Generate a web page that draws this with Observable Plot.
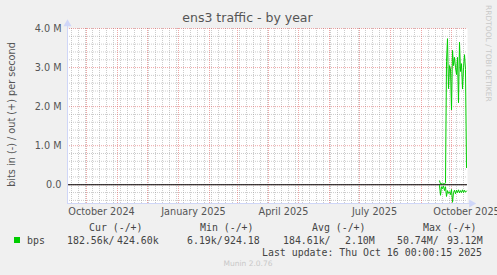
<!DOCTYPE html>
<html><head><meta charset="utf-8">
<script src="https://cdn.jsdelivr.net/npm/d3@7"></script>
<script src="https://cdn.jsdelivr.net/npm/@observablehq/plot@0.6"></script>
<style>html,body{margin:0;padding:0;background:#F0F0F0;overflow:hidden}</style>
</head><body><div id="chart"></div>
<script>
// ---- data (daily averages, bits per second) ----
const dates = ["2025-09-19","2025-09-20","2025-09-21","2025-09-22","2025-09-23","2025-09-24","2025-09-25",
  "2025-09-26","2025-09-27","2025-09-28","2025-09-29","2025-09-30","2025-10-01","2025-10-02","2025-10-03",
  "2025-10-04","2025-10-05","2025-10-06","2025-10-07","2025-10-08","2025-10-09","2025-10-10","2025-10-11",
  "2025-10-12","2025-10-13","2025-10-14","2025-10-15","2025-10-16"];
const outBps = [0.10e6,0.02e6,0.03e6,0.02e6,0.03e6,0.02e6,0.05e6,
  3.15e6,3.74e6,2.46e6,3.05e6,2.97e6,1.92e6,3.44e6,3.05e6,
  3.26e6,3.0e6,2.82e6,3.26e6,2.1e6,3.65e6,2.9e6,3.1e6,
  2.45e6,3.0e6,3.33e6,2.95e6,0.44e6];
const inBps = [0.02e6,0.27e6,0.05e6,0.10e6,0.03e6,0.15e6,0.05e6,
  0.30e6,0.15e6,0.22e6,0.18e6,0.25e6,0.12e6,0.45e6,0.20e6,
  0.14e6,0.23e6,0.14e6,0.20e6,0.13e6,0.21e6,0.15e6,0.20e6,
  0.13e6,0.20e6,0.14e6,0.19e6,0.16e6];

const xLabelDates = ["2024-10-16","2025-01-16","2025-04-16","2025-07-16","2025-10-16"];
const xLabels = ["October 2024","January 2025","April 2025","July 2025","October 2025"];
const yTicks = [0, 1e6, 2e6, 3e6, 4e6];
const yLabels = ["0.0","1.0 M","2.0 M","3.0 M","4.0 M"];

const legendHeads = ["Cur (-/+)","Min (-/+)","Avg (-/+)","Max (-/+)"];
const legendIn  = ["182.56k/","6.19k/","184.61k/","50.74M/"];
const legendOut = ["424.60k","924.18","2.10M","93.12M"];

// ---- build ----
const xStart = new Date("2024-09-12T00:00:00Z");
const xEnd = new Date("2025-10-17T00:00:00Z");
const yMin = -0.48e6, yMax = 4.0e6;
const parse = s => new Date(s + "T00:00:00Z");
const outData = dates.map((d, i) => ({date: parse(d), v: outBps[i]}));
const inData = dates.map((d, i) => ({date: parse(d), v: -inBps[i]}));
const xLabelMap = new Map(xLabelDates.map((d, i) => [+parse(d), xLabels[i]]));
const yLabelMap = new Map(yTicks.map((t, i) => [t, yLabels[i]]));

const monthLines = d3.utcMonth.range(new Date("2024-10-01T00:00:00Z"), new Date("2025-10-02T00:00:00Z"));
const weekLines = d3.utcMonday.range(xStart, xEnd).filter(d => d.getUTCDate() !== 1);
const yMinor = d3.range(-2, 20).map(k => k * 0.2e6).filter(v => Math.abs(v / 1e6 - Math.round(v / 1e6)) > 1e-6);

const gridGray = "rgba(143,143,143,0.45)";
const gridRed = "rgba(222,79,79,0.5)";
const axisBlue = "#CFD6F8";

const plot = Plot.plot({
  width: 497, height: 275,
  marginLeft: 67, marginRight: 30, marginTop: 28, marginBottom: 72,
  style: {background: "#F0F0F0", fontFamily: "DejaVu Sans", fontSize: "9.7px", color: "#555", overflow: "visible"},
  x: {type: "utc", domain: [xStart, xEnd], label: null, axis: null},
  y: {domain: [yMin, yMax], label: null, axis: null},
  marks: [
    Plot.frame({fill: "white"}),
    Plot.ruleY(yMinor, {stroke: gridGray, strokeDasharray: "1,1"}),
    Plot.ruleX(weekLines, {stroke: gridGray, strokeDasharray: "1,1"}),
    Plot.ruleY(yTicks, {stroke: gridRed, strokeDasharray: "1,1"}),
    Plot.ruleX(monthLines, {stroke: gridRed, strokeDasharray: "1,1"}),
    Plot.ruleY([0], {stroke: "#000", strokeWidth: 1.2}),
    Plot.line(outData, {x: "date", y: "v", stroke: "#00CC00", strokeWidth: 1}),
    Plot.line(inData, {x: "date", y: "v", stroke: "#00CC00", strokeWidth: 1}),
    // axes
    Plot.ruleX([xStart], {y1: yMin, y2: yMax + 0.15e6, stroke: axisBlue}),
    Plot.ruleY([yMin], {x1: xStart, x2: new Date("2025-10-20T00:00:00Z"), stroke: axisBlue}),
    Plot.dot([xStart], {x: d => d, y: yMax + 0.12e6, symbol: "triangle", r: 3, fill: axisBlue, stroke: null}),
    Plot.dot([new Date("2025-10-21T00:00:00Z")], {x: d => d, y: yMin, symbol: "triangle", rotate: 90, r: 3, fill: axisBlue, stroke: null}),
    Plot.axisX(xLabelDates.map(parse), {tickSize: 0, tickPadding: 5, tickFormat: d => xLabelMap.get(+d), fontSize: 9.7, anchor: "bottom"}),
    Plot.axisY(yTicks, {tickSize: 0, tickPadding: 6, tickFormat: d => yLabelMap.get(d), fontSize: 9.7, anchor: "left"})
  ]
});

const svg = d3.select(plot);
const font = "DejaVu Sans";
const mono = "DejaVu Sans Mono";
function txt(x, y, s, opts = {}) {
  return svg.append("text").attr("x", x).attr("y", y)
    .attr("text-anchor", opts.anchor || "start")
    .attr("font-family", opts.family || mono)
    .attr("font-size", opts.size || 9.9)
    .attr("fill", opts.fill || "#444")
    .text(s);
}
txt(247.5, 22, "ens3 traffic - by year", {anchor: "middle", family: font, size: 12.5, fill: "#555"});
svg.append("text").attr("transform", "translate(14.5,114.5) rotate(-90)").attr("text-anchor", "middle")
  .attr("font-family", font).attr("font-size", 9.7).attr("fill", "#555").text("bits in (-) / out (+) per second");
svg.append("text").attr("transform", "translate(485.5,5) rotate(90)").attr("text-anchor", "start")
  .attr("font-family", font).attr("font-size", 7.5).attr("fill", "#c8c8c8").text("RRDTOOL / TOBI OETIKER");

const headX = [89, 200, 312, 423];
const inX = [67, 187, 283, 397];
const outX = [117, 224, 345, 447];
legendHeads.forEach((t, i) => txt(headX[i], 230.5, t));
svg.append("rect").attr("x", 14).attr("y", 237).attr("width", 6).attr("height", 6).attr("fill", "#00CC00");
txt(27, 243.5, "bps");
legendIn.forEach((t, i) => txt(inX[i], 243.5, t));
legendOut.forEach((t, i) => txt(outX[i], 243.5, t));
txt(482, 255.5, "Last update: Thu Oct 16 00:00:15 2025", {anchor: "end"});
txt(248, 266, "Munin 2.0.76", {anchor: "middle", family: font, size: 7.5, fill: "#c8c8c8"});

document.getElementById("chart").appendChild(plot);
</script>
</body></html>
